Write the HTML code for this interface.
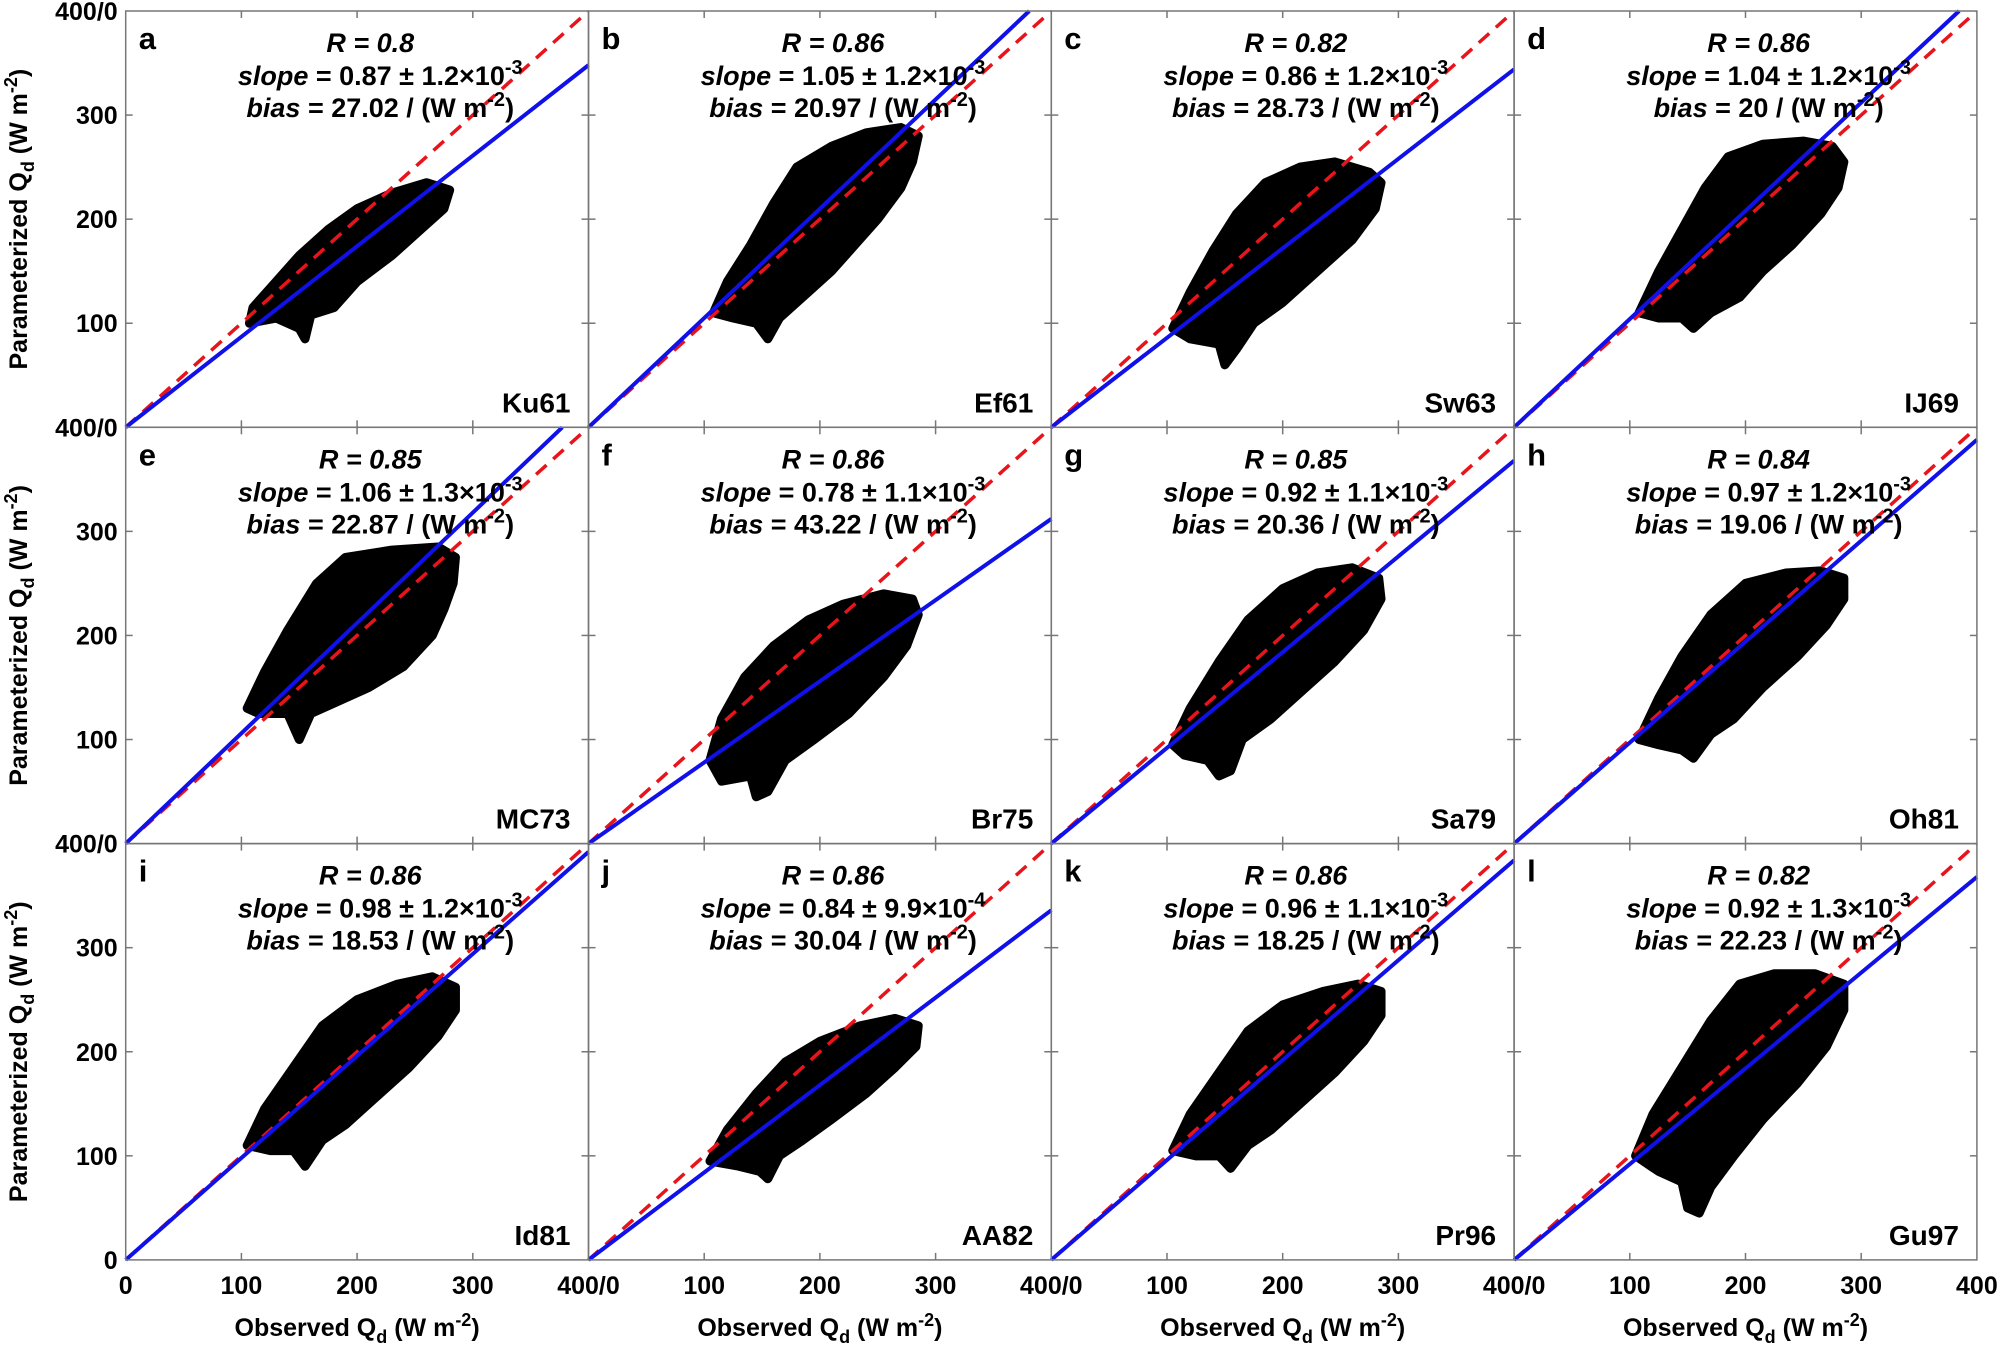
<!DOCTYPE html>
<html><head><meta charset="utf-8"><style>
html,body{margin:0;padding:0;background:#fff;}
svg{display:block;font-family:"Liberation Sans",Arial,sans-serif;font-weight:bold;}
</style></head><body>
<svg id="chart" width="2000" height="1352" viewBox="0 0 2000 1352" xmlns="http://www.w3.org/2000/svg"></svg>
<script>
const panelLetters = ['a','b','c','d','e','f','g','h','i','j','k','l'];
const schemeNames = ['Ku61','Ef61','Sw63','IJ69','MC73','Br75','Sa79','Oh81','Id81','AA82','Pr96','Gu97'];
const rValues = ['0.8','0.86','0.82','0.86','0.85','0.86','0.85','0.84','0.86','0.86','0.86','0.82'];
const slopeValues = [0.87,1.05,0.86,1.04,1.06,0.78,0.92,0.97,0.98,0.84,0.96,0.92];
const slopeErrMant = ['1.2','1.2','1.2','1.2','1.3','1.1','1.1','1.2','1.2','9.9','1.1','1.3'];
const slopeErrExp = ['-3','-3','-3','-3','-3','-3','-3','-3','-3','-4','-3','-3'];
const biasValues = ['27.02','20.97','28.73','20','22.87','43.22','20.36','19.06','18.53','30.04','18.25','22.23'];
const yTicks = [100,200,300];
const xTicks = [100,200,300];
const cloudHulls = [
 [[107,100],[110,115],[130,140],[150,165],[175,190],[200,210],[230,225],[260,235],[280,228],[275,210],[255,190],[230,165],[200,140],[180,115],[160,108],[155,85],[150,95],[130,105]],
 [[108,110],[120,140],[140,175],[160,215],[180,250],[210,270],[240,283],[270,288],[285,280],[280,255],[270,230],[250,200],[230,175],[210,150],[190,130],[165,105],[155,85],[145,100],[125,105]],
 [[105,95],[120,130],[140,170],[160,205],[185,235],[215,250],[245,255],[275,245],[285,235],[280,210],[260,180],[230,150],[200,120],[175,100],[160,75],[150,60],[145,80],[120,85]],
 [[108,110],[125,150],[145,190],[165,230],[185,260],[215,272],[250,275],[275,270],[285,255],[280,230],[265,205],[240,175],[215,150],[195,125],[170,110],[155,95],[145,105],[125,105]],
 [[105,130],[120,165],[140,205],[165,250],[190,275],[230,282],[270,285],[285,275],[283,250],[275,225],[265,200],[240,170],[210,150],[180,135],[160,125],[150,100],[140,125],[115,125]],
 [[105,80],[115,120],[135,160],[160,190],[190,215],[220,230],[255,240],[280,235],[285,220],[275,190],[255,160],[225,125],[195,100],[170,80],[155,50],[145,45],[140,65],[115,60]],
 [[105,95],[120,130],[145,175],[170,215],[200,245],[230,260],[260,265],[283,255],[285,235],[270,205],[245,175],[215,145],[190,120],[165,100],[155,70],[145,65],[135,80],[115,85]],
 [[108,100],[125,140],[145,180],[170,220],[200,250],[235,260],[265,262],[285,255],[285,235],[270,210],[245,180],[215,150],[190,120],[170,105],[155,82],[145,90],[125,95]],
 [[105,110],[120,145],[145,185],[170,225],[200,250],[235,265],[265,272],[285,262],[285,240],[270,215],[245,185],[215,155],[190,130],[170,115],[155,90],[145,105],[125,105]],
 [[105,95],[120,125],[145,160],[170,190],[200,210],[235,225],[265,232],[285,225],[283,205],[265,185],[240,160],[210,135],[185,115],[165,100],[155,78],[148,85],[130,90]],
 [[105,105],[120,140],[145,180],[170,220],[200,245],[235,258],[265,265],[285,258],[285,235],[270,210],[245,180],[215,150],[190,125],[170,110],[155,88],[145,100],[125,100]],
 [[105,100],[120,140],[145,185],[170,230],[195,265],[225,275],[260,275],[285,265],[285,240],[270,205],[245,170],[215,135],[190,100],[170,70],[160,45],[150,50],[145,75],[125,85]]
];

const NS='http://www.w3.org/2000/svg';
const svg=document.getElementById('chart');
const L=125.7, W=462.8, T=11, H=416.3;
function mk(tag,attrs,parent){const e=document.createElementNS(NS,tag);for(const k in attrs)e.setAttribute(k,attrs[k]);(parent||svg).appendChild(e);return e;}

for(let p=0;p<12;p++){
  const col=p%4,row=Math.floor(p/4);
  const x0=L+col*W, y0=T+row*H;
  const sx=v=>x0+v/400*W;
  const sy=v=>y0+H-v/400*H;
  const g=mk('g',{});
  
  
  const cid='clip'+p;
  const cp=mk('clipPath',{id:cid},g);
  mk('rect',{x:x0,y:y0,width:W,height:H},cp);
  const pts=cloudHulls[p].map(d=>sx(d[0])+','+sy(d[1])).join(' ');
  const cloud=mk('polygon',{points:pts,fill:'#000',stroke:'#000','stroke-width':9,'stroke-linejoin':'round'},g);
  
  
  const red=mk('line',{x1:sx(0),y1:sy(0),x2:sx(400),y2:sy(400),stroke:'#e8141b','stroke-width':3.5,'stroke-dasharray':'14 9','clip-path':'url(#'+cid+')'},g);
  
  
  const s=slopeValues[p];
  const xe = s>1 ? 400/s : 400;
  const blue=mk('line',{x1:sx(0),y1:sy(0),x2:sx(xe),y2:sy(s*xe),stroke:'#1010e8','stroke-width':4},g);
  
  
  const fr=mk('rect',{x:x0,y:y0,width:W,height:H,fill:'none',stroke:'#777','stroke-width':1.5},g);
  
  
  yTicks.forEach(v=>{
    mk('line',{x1:x0,y1:sy(v),x2:x0+7,y2:sy(v),stroke:'#777','stroke-width':1.5},g);
    mk('line',{x1:x0+W,y1:sy(v),x2:x0+W-7,y2:sy(v),stroke:'#777','stroke-width':1.5},g);
  });
  xTicks.forEach(v=>{
    mk('line',{x1:sx(v),y1:y0+H,x2:sx(v),y2:y0+H-7,stroke:'#777','stroke-width':1.5},g);
    mk('line',{x1:sx(v),y1:y0,x2:sx(v),y2:y0+7,stroke:'#777','stroke-width':1.5},g);
  });
  const lt=mk('text',{x:x0+13,y:y0+38,'font-size':31},g); lt.textContent=panelLetters[p];
  
  
  const sn=mk('text',{x:x0+W-18,y:y0+H-15,'font-size':28,'text-anchor':'end'},g); sn.textContent=schemeNames[p];
  
  
  const cx=x0+W*0.55;
  const t1=mk('text',{x:cx-10,y:y0+41,'font-size':27,'text-anchor':'middle','font-style':'italic'},g);
  t1.textContent='R = '+rValues[p];
  
  
  const t2=mk('text',{x:cx,y:y0+74,'font-size':27,'text-anchor':'middle'},g);
  t2.innerHTML='<tspan font-style="italic">slope</tspan> = '+slopeValues[p].toFixed(2)+' ± '+slopeErrMant[p]+'×10<tspan dy="-11" font-size="20">'+slopeErrExp[p]+'</tspan>';
  
  
  const t3=mk('text',{x:cx,y:y0+106,'font-size':27,'text-anchor':'middle'},g);
  t3.innerHTML='<tspan font-style="italic">bias</tspan> = '+biasValues[p]+' / (W m<tspan dy="-11" font-size="20">-2</tspan><tspan dy="11">)</tspan>';
  
  
}
for(let row=0;row<3;row++){
  const y0=T+row*H;
  yTicks.forEach(v=>{
    const t=mk('text',{x:L-8,y:y0+H-v/400*H+9,'font-size':25,'text-anchor':'end'});t.textContent=v;
    
    
  });
  const tt=mk('text',{x:L-8,y:y0+9,'font-size':25,'text-anchor':'end'});tt.textContent='400/0';
  
  
  const cy=y0+H/2;
  const yt=mk('text',{x:0,y:0,'font-size':25,'text-anchor':'middle',transform:'translate(27,'+cy+') rotate(-90)'});
  yt.innerHTML='Parameterized Q<tspan dy="7" font-size="18">d</tspan><tspan dy="-7"> (W m</tspan><tspan dy="-10" font-size="18">-2</tspan><tspan dy="10">)</tspan>';
  
  
}
const z=mk('text',{x:L-8,y:T+3*H+9,'font-size':25,'text-anchor':'end'});z.textContent='0';


const yb=T+3*H;
for(let col=0;col<4;col++){
  const x0=L+col*W;
  if(col===0){const t=mk('text',{x:x0,y:yb+34,'font-size':25,'text-anchor':'middle'});t.textContent='0';
    
    }
  xTicks.forEach(v=>{
    const t=mk('text',{x:x0+v/400*W,y:yb+34,'font-size':25,'text-anchor':'middle'});t.textContent=v;
    
    
  });
  const e=mk('text',{x:x0+W,y:yb+34,'font-size':25,'text-anchor':'middle'});e.textContent=col===3?'400':'400/0';
  
  
  const xt=mk('text',{x:x0+W/2,y:yb+76,'font-size':25,'text-anchor':'middle'});
  xt.innerHTML='Observed Q<tspan dy="7" font-size="18">d</tspan><tspan dy="-7"> (W m</tspan><tspan dy="-10" font-size="18">-2</tspan><tspan dy="10">)</tspan>';
  
  
}
</script>
</body></html>
